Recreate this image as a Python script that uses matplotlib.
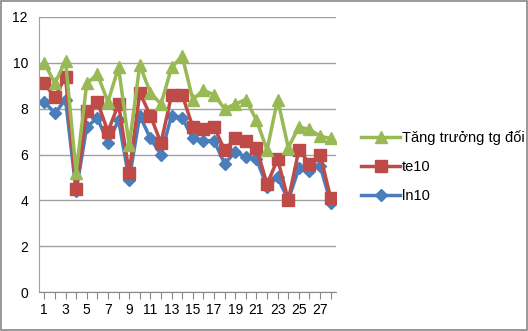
import matplotlib
matplotlib.use("Agg")
import matplotlib.pyplot as plt
from matplotlib.patches import Rectangle

x = list(range(1, 29))
tang_truong = [10.0, 9.1, 10.1, 5.2, 9.1, 9.5, 8.3, 9.8, 6.4, 9.9,
               8.7, 8.2, 9.8, 10.3, 8.4, 8.8, 8.6, 8.0, 8.2, 8.4,
               7.5, 6.2, 8.4, 6.3, 7.2, 7.1, 6.8, 6.7]
te10 = [9.1, 8.5, 9.4, 4.5, 7.9, 8.3, 7.0, 8.2, 5.2, 8.7,
        7.7, 6.5, 8.6, 8.6, 7.2, 7.1, 7.2, 6.2, 6.7, 6.6,
        6.3, 4.7, 5.8, 4.0, 6.2, 5.6, 6.0, 4.1]
ln10 = [8.3, 7.8, 8.4, 4.4, 7.2, 7.6, 6.5, 7.5, 4.9, 7.7,
        6.7, 6.0, 7.7, 7.6, 6.7, 6.6, 6.6, 5.6, 6.1, 5.9,
        5.8, 4.6, 5.0, 4.0, 5.4, 5.3, 5.5, 3.9]

plt.rcParams['font.family'] = ['Liberation Sans', 'DejaVu Sans']

fig = plt.figure(figsize=(5.28, 3.31), dpi=100)
ax = fig.add_axes([39/528, 1 - 292/331, 297/528, 275/331])

l3, = ax.plot(x, ln10, color="#4A7EBB", lw=2.5, marker="D", ms=6)
l2, = ax.plot(x, te10, color="#BE4B48", lw=2.5, marker="s", ms=8)
l1, = ax.plot(x, tang_truong, color="#98B954", lw=2.5, marker="^", ms=9)

ax.set_xlim(0.5, 28.5)
ax.set_ylim(0, 12)
ax.set_yticks(range(0, 13, 2))
ax.set_xticks(range(1, 29))
ax.set_xticklabels([str(i) if i % 2 == 1 else "" for i in x])
ax.tick_params(axis='y', length=0, labelsize=10, pad=8)
ax.tick_params(axis='x', length=5, color="#888888", labelsize=10, pad=3, direction='out')
ax.grid(axis='y', color="#A0A0A0", lw=1)
ax.set_axisbelow(True)
for s in ['top', 'right']:
    ax.spines[s].set_visible(False)
ax.spines['left'].set_color("#A0A0A0")
ax.spines['bottom'].set_color("#888888")

fig.legend([l1, l2, l3], ["Tăng trưởng tg đối", "te10", "ln10"],
           loc="upper left", bbox_to_anchor=(355/528, 1 - 124/331),
           frameon=False, fontsize=10.5, handlelength=2.7, labelspacing=1.05,
           handletextpad=0.1, borderaxespad=0)

fig.patches.append(Rectangle((0.002, 0.003), 0.996, 0.994, transform=fig.transFigure,
                             fill=False, edgecolor="#888888", lw=1.2))

fig.savefig("out.png", dpi=100)
